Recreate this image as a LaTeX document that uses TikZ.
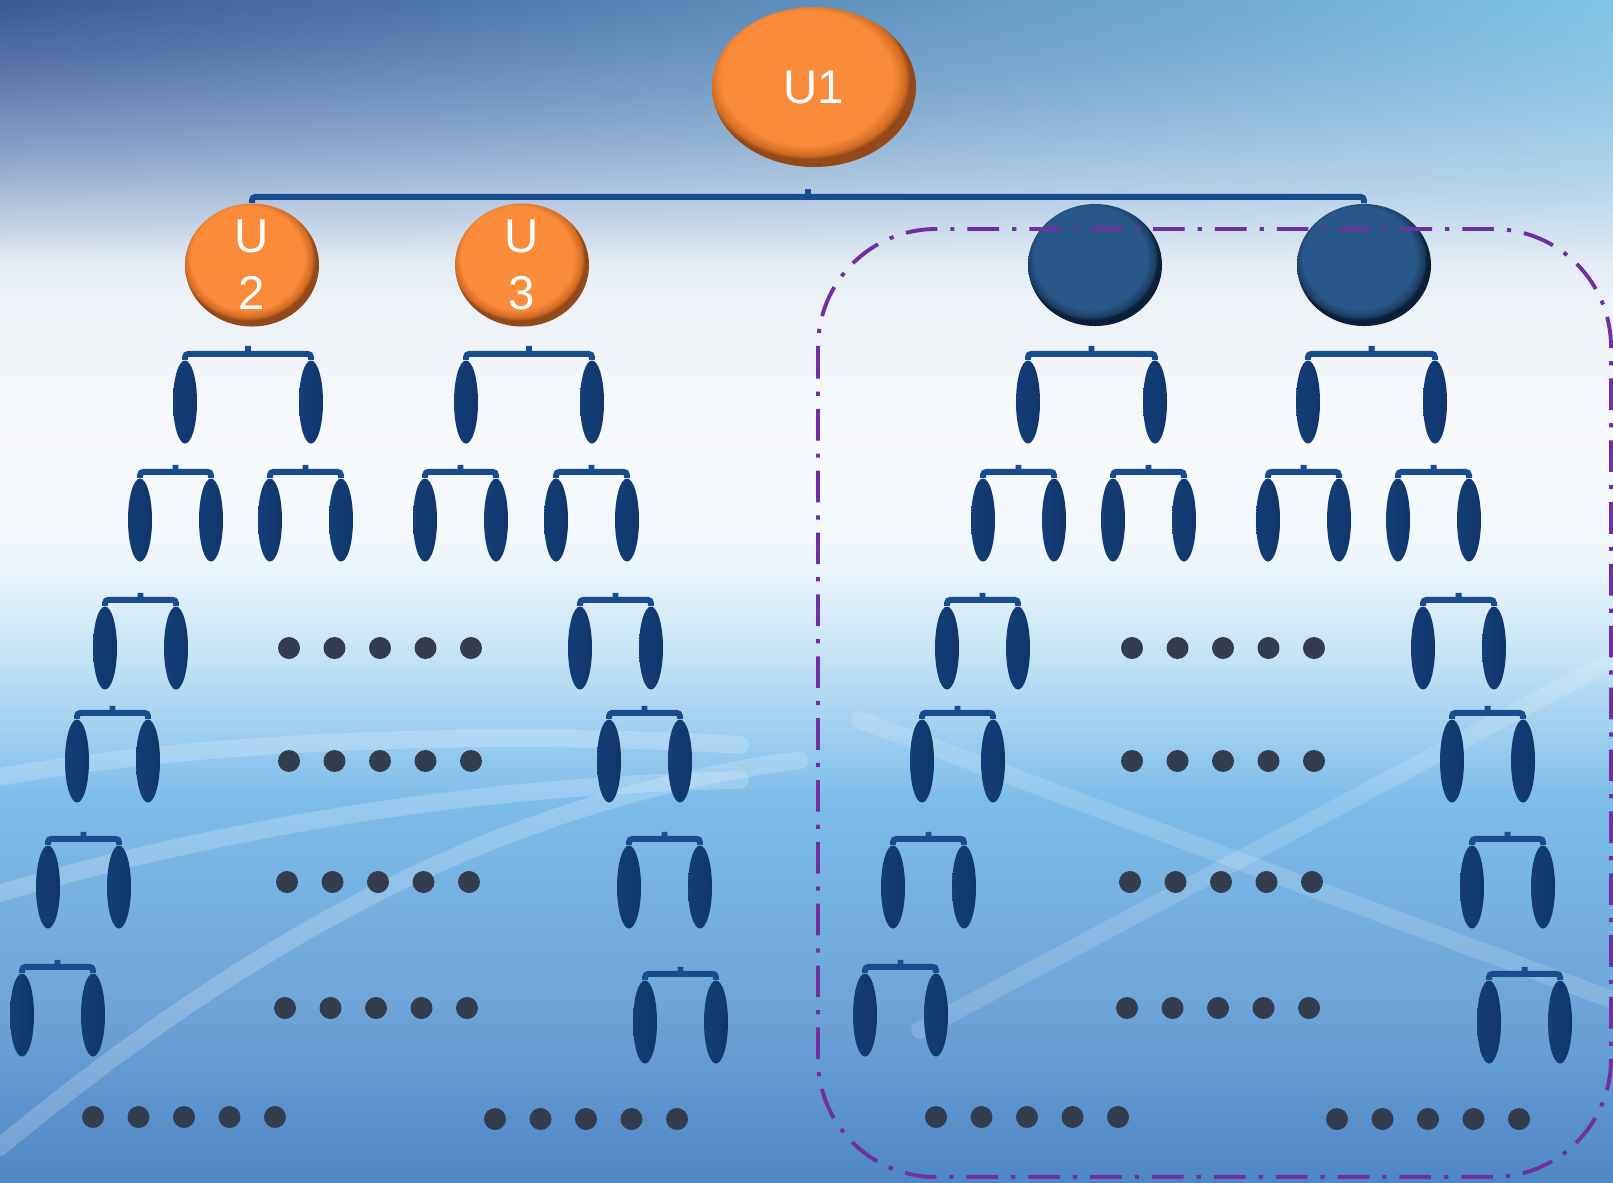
\documentclass[tikz,border=0pt]{standalone}
\usepackage{fontspec}
\setmainfont{Liberation Sans}
\usepackage{tikz}
\usetikzlibrary{shapes.geometric,calc,fadings}
\definecolor{arancio}{HTML}{F98B3B}
\definecolor{arancioscuro}{HTML}{D06A22}
\definecolor{bordoarancio}{HTML}{94491A}
\definecolor{blunodo}{HTML}{285889}
\definecolor{blunodoscuro}{HTML}{1A3E66}
\definecolor{bordoblu}{HTML}{0B1F38}
\definecolor{blufoglia}{HTML}{2262AF}
\definecolor{blufogliasx}{HTML}{143E78}
\definecolor{blufogliadx}{HTML}{10356B}
\definecolor{blustaffa}{HTML}{194C8E}
\definecolor{grigiopunto}{HTML}{333D4F}
\definecolor{violacornice}{HTML}{7030A0}
\definecolor{sf1}{HTML}{4F86C6}
\definecolor{sf2}{HTML}{6EA6DA}
\definecolor{sf3}{HTML}{7DBDEA}
\definecolor{sf4}{HTML}{C8E5F6}
\definecolor{sf5}{HTML}{F0F7FC}
\definecolor{sf6}{HTML}{F8FAFC}
\definecolor{sf7}{HTML}{EDF2F8}
\definecolor{sf8}{HTML}{C6D7EB}
\definecolor{sf9}{HTML}{9DBBE0}
\definecolor{cielosx}{HTML}{3C5895}
\definecolor{cielomezzo}{HTML}{7FAAD8}
\definecolor{cielodx}{HTML}{7FC7E4}
\pgfdeclareradialshading{arancio3d}{\pgfpoint{-3bp}{5bp}}{color(0bp)=(arancio); color(21bp)=(arancio); color(24bp)=(arancioscuro); color(25bp)=(bordoarancio); color(50bp)=(bordoarancio)}
\pgfdeclareradialshading{blu3d}{\pgfpoint{-3bp}{5bp}}{color(0bp)=(blunodo); color(21bp)=(blunodo); color(24bp)=(blunodoscuro); color(25bp)=(bordoblu); color(50bp)=(bordoblu)}
\pgfdeclareverticalshading{sfondo}{100bp}{color(0bp)=(sf1); color(25bp)=(sf1); color(32.7bp)=(sf2); color(41.2bp)=(sf3); color(47.5bp)=(sf4); color(51.7bp)=(sf5); color(56bp)=(sf6); color(62.3bp)=(sf7); color(68.6bp)=(sf8); color(75bp)=(sf9); color(100bp)=(sf9)}
\tikzstyle{nodoradice} = [ellipse,inner sep=0pt,minimum width=2.04cm,minimum height=1.60cm,shade,shading=arancio3d,text=white]
\tikzstyle{nodoarancio} = [ellipse,inner sep=0pt,minimum width=1.34cm,minimum height=1.23cm,shade,shading=arancio3d]
\tikzstyle{nodoblu} = [ellipse,inner sep=0pt,minimum width=1.34cm,minimum height=1.22cm,shade,shading=blu3d]
\tikzstyle{etichetta} = [text=white,align=center,inner sep=0pt]
\tikzstyle{fogliablu} = [ellipse,inner sep=0pt,minimum width=0.24cm,minimum height=0.83cm,left color=blufogliasx,middle color=blufoglia,right color=blufogliadx]
\tikzstyle{puntino} = [circle,inner sep=0pt,minimum size=0.22cm,fill=grigiopunto]
\tikzstyle{staffa} = [draw=blustaffa,line width=1.7pt,rounded corners=1pt]
\tikzstyle{cornice} = [draw=violacornice,line width=1.1pt,rounded corners=1.18cm,dash pattern=on 9pt off 3.7pt on 1.2pt off 3.7pt]
\tikzstyle{bagliore} = [white,opacity=0.2,line width=5pt,line cap=round]
\begin{document}
\begin{tikzpicture}
\tikzstyle{every node}=[font=\fontsize{13.5}{16.2}\selectfont]

% sfondo
\useasboundingbox (0,0) rectangle (16.13,-11.82);
\shade[shading=sfondo] (0,0) rectangle (16.13,-11.82);
\shade[left color=cielosx,middle color=cielomezzo,right color=cielodx,path fading=south] (0,0) rectangle (16.13,-2.6);
\draw[bagliore] (0,-7.77) .. controls (2.0,-7.40) and (5.0,-7.30) .. (7.4,-7.45);
\draw[bagliore] (0,-8.93) .. controls (2.5,-8.20) and (5.0,-7.85) .. (7.4,-7.80);
\draw[bagliore] (0,-11.47) .. controls (2.5,-9.40) and (5.0,-8.00) .. (8.0,-7.60);
\draw[bagliore,opacity=0.15] (8.6,-7.2) -- (16.13,-10.0);
\draw[bagliore,opacity=0.15] (9.2,-10.3) -- (16.13,-6.6);

% livello 1
\node (U1) [nodoradice] at (8.14,-0.87) {U1};
\node (U2) [nodoarancio,label={[etichetta]center:U\\2}] at (2.52,-2.65) {};
\node (U3) [nodoarancio,label={[etichetta]center:U\\3},right of=U2,xshift=1.70cm] {};
\node (U4) [nodoblu,right of=U3,xshift=4.73cm] {};
\node (U5) [nodoblu,right of=U4,xshift=1.69cm] {};

% livello 2
\node (U2a) [fogliablu,below of=U2,xshift=-0.67cm,yshift=-0.37cm] {};
\node (U2b) [fogliablu,right of=U2a,xshift=0.26cm] {};
\node (U3a) [fogliablu,below of=U3,xshift=-0.56cm,yshift=-0.37cm] {};
\node (U3b) [fogliablu,right of=U3a,xshift=0.26cm] {};
\node (U4a) [fogliablu,below of=U4,xshift=-0.67cm,yshift=-0.37cm] {};
\node (U4b) [fogliablu,right of=U4a,xshift=0.27cm] {};
\node (U5a) [fogliablu,below of=U5,xshift=-0.56cm,yshift=-0.37cm] {};
\node (U5b) [fogliablu,right of=U5a,xshift=0.27cm] {};

% livello 3
\node (U2aa) [fogliablu,below of=U2a,xshift=-0.45cm,yshift=-0.18cm] {};
\node (U2ab) [fogliablu,right of=U2aa,xshift=-0.29cm] {};
\node (U2ba) [fogliablu,below of=U2b,xshift=-0.41cm,yshift=-0.18cm] {};
\node (U2bb) [fogliablu,right of=U2ba,xshift=-0.29cm] {};
\node (U3aa) [fogliablu,below of=U3a,xshift=-0.41cm,yshift=-0.18cm] {};
\node (U3ab) [fogliablu,right of=U3aa,xshift=-0.29cm] {};
\node (U3ba) [fogliablu,below of=U3b,xshift=-0.36cm,yshift=-0.18cm] {};
\node (U3bb) [fogliablu,right of=U3ba,xshift=-0.29cm] {};
\node (U4aa) [fogliablu,below of=U4a,xshift=-0.45cm,yshift=-0.18cm] {};
\node (U4ab) [fogliablu,right of=U4aa,xshift=-0.29cm] {};
\node (U4ba) [fogliablu,below of=U4b,xshift=-0.42cm,yshift=-0.18cm] {};
\node (U4bb) [fogliablu,right of=U4ba,xshift=-0.29cm] {};
\node (U5aa) [fogliablu,below of=U5a,xshift=-0.40cm,yshift=-0.18cm] {};
\node (U5ab) [fogliablu,right of=U5aa,xshift=-0.29cm] {};
\node (U5ba) [fogliablu,below of=U5b,xshift=-0.37cm,yshift=-0.18cm] {};
\node (U5bb) [fogliablu,right of=U5ba,xshift=-0.29cm] {};

% cascate in basso
\node (A4a) [fogliablu,below of=U2aa,xshift=-0.35cm,yshift=-0.28cm] {};
\node (A4b) [fogliablu,right of=A4a,xshift=-0.29cm] {};
\node (A5a) [fogliablu,below of=A4a,xshift=-0.28cm,yshift=-0.13cm] {};
\node (A5b) [fogliablu,right of=A5a,xshift=-0.29cm] {};
\node (A6a) [fogliablu,below of=A5a,xshift=-0.29cm,yshift=-0.26cm] {};
\node (A6b) [fogliablu,right of=A6a,xshift=-0.29cm] {};
\node (A7a) [fogliablu,below of=A6a,xshift=-0.26cm,yshift=-0.28cm] {};
\node (A7b) [fogliablu,right of=A7a,xshift=-0.29cm] {};

\node (B4a) [fogliablu,below of=U3ba,xshift=0.24cm,yshift=-0.28cm] {};
\node (B4b) [fogliablu,right of=B4a,xshift=-0.29cm] {};
\node (B5a) [fogliablu,below of=B4a,xshift=0.29cm,yshift=-0.13cm] {};
\node (B5b) [fogliablu,right of=B5a,xshift=-0.29cm] {};
\node (B6a) [fogliablu,below of=B5a,xshift=0.20cm,yshift=-0.26cm] {};
\node (B6b) [fogliablu,right of=B6a,xshift=-0.29cm] {};
\node (B7a) [fogliablu,below of=B6a,xshift=0.16cm,yshift=-0.35cm] {};
\node (B7b) [fogliablu,right of=B7a,xshift=-0.29cm] {};

\node (C4a) [fogliablu,below of=U4aa,xshift=-0.36cm,yshift=-0.28cm] {};
\node (C4b) [fogliablu,right of=C4a,xshift=-0.29cm] {};
\node (C5a) [fogliablu,below of=C4a,xshift=-0.25cm,yshift=-0.13cm] {};
\node (C5b) [fogliablu,right of=C5a,xshift=-0.29cm] {};
\node (C6a) [fogliablu,below of=C5a,xshift=-0.29cm,yshift=-0.26cm] {};
\node (C6b) [fogliablu,right of=C6a,xshift=-0.29cm] {};
\node (C7a) [fogliablu,below of=C6a,xshift=-0.28cm,yshift=-0.28cm] {};
\node (C7b) [fogliablu,right of=C7a,xshift=-0.29cm] {};

\node (D4a) [fogliablu,below of=U5ba,xshift=0.25cm,yshift=-0.28cm] {};
\node (D4b) [fogliablu,right of=D4a,xshift=-0.29cm] {};
\node (D5a) [fogliablu,below of=D4a,xshift=0.29cm,yshift=-0.13cm] {};
\node (D5b) [fogliablu,right of=D5a,xshift=-0.29cm] {};
\node (D6a) [fogliablu,below of=D5a,xshift=0.20cm,yshift=-0.26cm] {};
\node (D6b) [fogliablu,right of=D6a,xshift=-0.29cm] {};
\node (D7a) [fogliablu,below of=D6a,xshift=0.17cm,yshift=-0.35cm] {};
\node (D7b) [fogliablu,right of=D7a,xshift=-0.29cm] {};

% puntini
\node (P4_1) [puntino] at (2.89,-6.48) {};
\node (P4_2) [puntino,right of=P4_1,xshift=-0.545cm] {};
\node (P4_3) [puntino,right of=P4_2,xshift=-0.545cm] {};
\node (P4_4) [puntino,right of=P4_3,xshift=-0.545cm] {};
\node (P4_5) [puntino,right of=P4_4,xshift=-0.545cm] {};
\node (P5_1) [puntino] at (2.89,-7.61) {};
\node (P5_2) [puntino,right of=P5_1,xshift=-0.545cm] {};
\node (P5_3) [puntino,right of=P5_2,xshift=-0.545cm] {};
\node (P5_4) [puntino,right of=P5_3,xshift=-0.545cm] {};
\node (P5_5) [puntino,right of=P5_4,xshift=-0.545cm] {};
\node (P6_1) [puntino] at (2.87,-8.82) {};
\node (P6_2) [puntino,right of=P6_1,xshift=-0.545cm] {};
\node (P6_3) [puntino,right of=P6_2,xshift=-0.545cm] {};
\node (P6_4) [puntino,right of=P6_3,xshift=-0.545cm] {};
\node (P6_5) [puntino,right of=P6_4,xshift=-0.545cm] {};
\node (P7_1) [puntino] at (2.85,-10.08) {};
\node (P7_2) [puntino,right of=P7_1,xshift=-0.545cm] {};
\node (P7_3) [puntino,right of=P7_2,xshift=-0.545cm] {};
\node (P7_4) [puntino,right of=P7_3,xshift=-0.545cm] {};
\node (P7_5) [puntino,right of=P7_4,xshift=-0.545cm] {};

\node (Q4_1) [puntino] at (11.32,-6.48) {};
\node (Q4_2) [puntino,right of=Q4_1,xshift=-0.545cm] {};
\node (Q4_3) [puntino,right of=Q4_2,xshift=-0.545cm] {};
\node (Q4_4) [puntino,right of=Q4_3,xshift=-0.545cm] {};
\node (Q4_5) [puntino,right of=Q4_4,xshift=-0.545cm] {};
\node (Q5_1) [puntino] at (11.32,-7.61) {};
\node (Q5_2) [puntino,right of=Q5_1,xshift=-0.545cm] {};
\node (Q5_3) [puntino,right of=Q5_2,xshift=-0.545cm] {};
\node (Q5_4) [puntino,right of=Q5_3,xshift=-0.545cm] {};
\node (Q5_5) [puntino,right of=Q5_4,xshift=-0.545cm] {};
\node (Q6_1) [puntino] at (11.30,-8.82) {};
\node (Q6_2) [puntino,right of=Q6_1,xshift=-0.545cm] {};
\node (Q6_3) [puntino,right of=Q6_2,xshift=-0.545cm] {};
\node (Q6_4) [puntino,right of=Q6_3,xshift=-0.545cm] {};
\node (Q6_5) [puntino,right of=Q6_4,xshift=-0.545cm] {};
\node (Q7_1) [puntino] at (11.27,-10.08) {};
\node (Q7_2) [puntino,right of=Q7_1,xshift=-0.545cm] {};
\node (Q7_3) [puntino,right of=Q7_2,xshift=-0.545cm] {};
\node (Q7_4) [puntino,right of=Q7_3,xshift=-0.545cm] {};
\node (Q7_5) [puntino,right of=Q7_4,xshift=-0.545cm] {};

\node (R1_1) [puntino] at (0.93,-11.17) {};
\node (R1_2) [puntino,right of=R1_1,xshift=-0.545cm] {};
\node (R1_3) [puntino,right of=R1_2,xshift=-0.545cm] {};
\node (R1_4) [puntino,right of=R1_3,xshift=-0.545cm] {};
\node (R1_5) [puntino,right of=R1_4,xshift=-0.545cm] {};
\node (R2_1) [puntino] at (4.95,-11.19) {};
\node (R2_2) [puntino,right of=R2_1,xshift=-0.545cm] {};
\node (R2_3) [puntino,right of=R2_2,xshift=-0.545cm] {};
\node (R2_4) [puntino,right of=R2_3,xshift=-0.545cm] {};
\node (R2_5) [puntino,right of=R2_4,xshift=-0.545cm] {};
\node (R3_1) [puntino] at (9.36,-11.17) {};
\node (R3_2) [puntino,right of=R3_1,xshift=-0.545cm] {};
\node (R3_3) [puntino,right of=R3_2,xshift=-0.545cm] {};
\node (R3_4) [puntino,right of=R3_3,xshift=-0.545cm] {};
\node (R3_5) [puntino,right of=R3_4,xshift=-0.545cm] {};
\node (R4_1) [puntino] at (13.37,-11.19) {};
\node (R4_2) [puntino,right of=R4_1,xshift=-0.545cm] {};
\node (R4_3) [puntino,right of=R4_2,xshift=-0.545cm] {};
\node (R4_4) [puntino,right of=R4_3,xshift=-0.545cm] {};
\node (R4_5) [puntino,right of=R4_4,xshift=-0.545cm] {};

% staffe
\draw[staffa] (U2.north) -- ++(0,0.06) -| (U5.north) ($(U2.north)!0.5!(U5.north)+(0,0.06)$) -- ++(0,0.08);

\draw[staffa] (U2a.north) -- ++(0,0.06) -| (U2b.north) ($(U2a.north)!0.5!(U2b.north)+(0,0.06)$) -- ++(0,0.08);
\draw[staffa] (U3a.north) -- ++(0,0.06) -| (U3b.north) ($(U3a.north)!0.5!(U3b.north)+(0,0.06)$) -- ++(0,0.08);
\draw[staffa] (U4a.north) -- ++(0,0.06) -| (U4b.north) ($(U4a.north)!0.5!(U4b.north)+(0,0.06)$) -- ++(0,0.08);
\draw[staffa] (U5a.north) -- ++(0,0.06) -| (U5b.north) ($(U5a.north)!0.5!(U5b.north)+(0,0.06)$) -- ++(0,0.08);

\draw[staffa] (U2aa.north) -- ++(0,0.06) -| (U2ab.north) ($(U2aa.north)!0.5!(U2ab.north)+(0,0.06)$) -- ++(0,0.07);
\draw[staffa] (U2ba.north) -- ++(0,0.06) -| (U2bb.north) ($(U2ba.north)!0.5!(U2bb.north)+(0,0.06)$) -- ++(0,0.07);
\draw[staffa] (U3aa.north) -- ++(0,0.06) -| (U3ab.north) ($(U3aa.north)!0.5!(U3ab.north)+(0,0.06)$) -- ++(0,0.07);
\draw[staffa] (U3ba.north) -- ++(0,0.06) -| (U3bb.north) ($(U3ba.north)!0.5!(U3bb.north)+(0,0.06)$) -- ++(0,0.07);
\draw[staffa] (U4aa.north) -- ++(0,0.06) -| (U4ab.north) ($(U4aa.north)!0.5!(U4ab.north)+(0,0.06)$) -- ++(0,0.07);
\draw[staffa] (U4ba.north) -- ++(0,0.06) -| (U4bb.north) ($(U4ba.north)!0.5!(U4bb.north)+(0,0.06)$) -- ++(0,0.07);
\draw[staffa] (U5aa.north) -- ++(0,0.06) -| (U5ab.north) ($(U5aa.north)!0.5!(U5ab.north)+(0,0.06)$) -- ++(0,0.07);
\draw[staffa] (U5ba.north) -- ++(0,0.06) -| (U5bb.north) ($(U5ba.north)!0.5!(U5bb.north)+(0,0.06)$) -- ++(0,0.07);

\draw[staffa] (A4a.north) -- ++(0,0.06) -| (A4b.north) ($(A4a.north)!0.5!(A4b.north)+(0,0.06)$) -- ++(0,0.07);
\draw[staffa] (A5a.north) -- ++(0,0.06) -| (A5b.north) ($(A5a.north)!0.5!(A5b.north)+(0,0.06)$) -- ++(0,0.07);
\draw[staffa] (A6a.north) -- ++(0,0.06) -| (A6b.north) ($(A6a.north)!0.5!(A6b.north)+(0,0.06)$) -- ++(0,0.07);
\draw[staffa] (A7a.north) -- ++(0,0.06) -| (A7b.north) ($(A7a.north)!0.5!(A7b.north)+(0,0.06)$) -- ++(0,0.07);
\draw[staffa] (B4a.north) -- ++(0,0.06) -| (B4b.north) ($(B4a.north)!0.5!(B4b.north)+(0,0.06)$) -- ++(0,0.07);
\draw[staffa] (B5a.north) -- ++(0,0.06) -| (B5b.north) ($(B5a.north)!0.5!(B5b.north)+(0,0.06)$) -- ++(0,0.07);
\draw[staffa] (B6a.north) -- ++(0,0.06) -| (B6b.north) ($(B6a.north)!0.5!(B6b.north)+(0,0.06)$) -- ++(0,0.07);
\draw[staffa] (B7a.north) -- ++(0,0.06) -| (B7b.north) ($(B7a.north)!0.5!(B7b.north)+(0,0.06)$) -- ++(0,0.07);
\draw[staffa] (C4a.north) -- ++(0,0.06) -| (C4b.north) ($(C4a.north)!0.5!(C4b.north)+(0,0.06)$) -- ++(0,0.07);
\draw[staffa] (C5a.north) -- ++(0,0.06) -| (C5b.north) ($(C5a.north)!0.5!(C5b.north)+(0,0.06)$) -- ++(0,0.07);
\draw[staffa] (C6a.north) -- ++(0,0.06) -| (C6b.north) ($(C6a.north)!0.5!(C6b.north)+(0,0.06)$) -- ++(0,0.07);
\draw[staffa] (C7a.north) -- ++(0,0.06) -| (C7b.north) ($(C7a.north)!0.5!(C7b.north)+(0,0.06)$) -- ++(0,0.07);
\draw[staffa] (D4a.north) -- ++(0,0.06) -| (D4b.north) ($(D4a.north)!0.5!(D4b.north)+(0,0.06)$) -- ++(0,0.07);
\draw[staffa] (D5a.north) -- ++(0,0.06) -| (D5b.north) ($(D5a.north)!0.5!(D5b.north)+(0,0.06)$) -- ++(0,0.07);
\draw[staffa] (D6a.north) -- ++(0,0.06) -| (D6b.north) ($(D6a.north)!0.5!(D6b.north)+(0,0.06)$) -- ++(0,0.07);
\draw[staffa] (D7a.north) -- ++(0,0.06) -| (D7b.north) ($(D7a.north)!0.5!(D7b.north)+(0,0.06)$) -- ++(0,0.07);

% cornice tratteggiata
\draw[cornice] (8.18,-2.29) rectangle (16.11,-11.77);

\end{tikzpicture}
\end{document}
